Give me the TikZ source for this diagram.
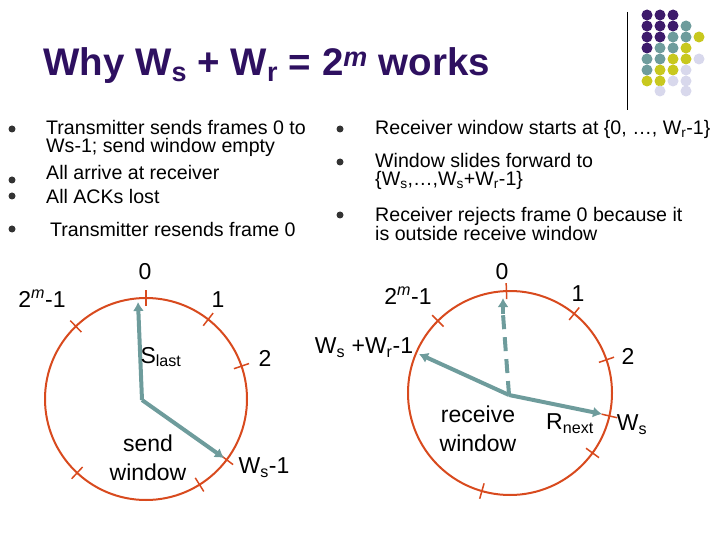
\documentclass[tikz,border=0pt]{standalone}
\usepackage{fontspec}
\setmainfont{Liberation Sans}
\usetikzlibrary{arrows.meta,calc}
\definecolor{pu}{HTML}{3D1A6B}
\definecolor{te}{HTML}{6E9C9C}
\definecolor{ye}{HTML}{C8C81E}
\definecolor{la}{HTML}{D8D8EC}
\definecolor{ring}{HTML}{D84A1E}
\definecolor{arr}{HTML}{6E9C9C}
\definecolor{ttl}{HTML}{2E1060}
\begin{document}
\begin{tikzpicture}[x=1pt,y=-1pt,
  txt/.style={font=\fontsize{19.6}{18}\selectfont,anchor=west,inner sep=0pt,align=left},
  lbl/.style={font=\fontsize{23}{29}\selectfont,inner sep=0pt,align=center},
  bul/.style={fill=black!80,circle,inner sep=0pt,minimum size=7pt},
  ringst/.style={draw=ring,line width=2pt},
  tick/.style={draw=ring,line width=1.5pt},
  ptr/.style={draw=arr,line width=4pt,-{Latex[length=9pt,width=11pt]}},
  dot/.style={circle,inner sep=0pt,minimum width=11pt,minimum height=9pt}]
\useasboundingbox (0,0) rectangle (720,540);
% logo
\draw[line width=1pt] (627,12) -- (627,110);
\foreach \r/\y/\cols in {0/15/{pu,pu,pu},1/26/{pu,pu,pu,te},2/37/{pu,pu,te,te,ye},3/48/{pu,te,te,ye},4/59/{te,te,ye,ye,la},5/70/{te,ye,ye,la},6/81/{ye,ye,la,la}}{
  \foreach \c [count=\i from 0] in \cols { \node[dot,fill=\c] (d\r\i) at (647+13*\i,\y) {}; } }
\node[dot,fill=la] (d71) at (660,91) {};
\node[dot,fill=la] (d73) at (686,91) {};
% title
\node[anchor=west,inner sep=0pt,text=ttl,font=\fontsize{38.5}{40}\selectfont\bfseries] (title) at (43,66) {Why W\textsubscript{s} + W\textsubscript{r} = 2\textsuperscript{\itshape m} works};
% bullets left
\node[bul] (b1) at (12,129) {}; \node[bul] (b2) at (12,180) {}; \node[bul] (b3) at (12,196) {}; \node[bul] (b4) at (12,229) {};
\node[txt] (t1) at (46,138) {Transmitter sends frames 0 to\\Ws-1; send window empty};
\node[txt] (t2) at (46,172) {All arrive at receiver};
\node[txt] (t3) at (46,196) {All ACKs lost};
\node[txt] (t4) at (50,229) {Transmitter resends frame 0};
\node[bul] (b5) at (340,129) {}; \node[bul] (b6) at (340,162) {}; \node[bul] (b7) at (340,215) {};
\node[txt] (t5) at (375,129) {Receiver window starts at \{0, …, W\textsubscript{r}-1\}};
\node[txt] (t6) at (375,171) {Window slides forward to\\\{W\textsubscript{s},…,W\textsubscript{s}+W\textsubscript{r}-1\}};
\node[txt] (t7) at (375,224) {Receiver rejects frame 0 because it\\is outside receive window};
% left circle
\coordinate (C1) at (146,399);
\draw[ringst] (C1) circle[radius=101];
\foreach \a in {90,52,19,-37,-58,-133,134}{
  \draw[tick] ($(C1)+({93*cos(\a)},{-93*sin(\a)})$) -- ($(C1)+({109*cos(\a)},{-109*sin(\a)})$);}
\coordinate (Lc) at (142,400);
\coordinate (L0) at (138,302);
\coordinate (Lw) at (224,458);
\draw[ptr] (Lc) -- (L0);
\draw[ptr] (Lc) -- (Lw);
\node[lbl] (l0) at (145,272) {0};
\node[lbl] (l2m) at (42,299) {2\textsuperscript{\itshape m}-1};
\node[lbl] (l1) at (218,300) {1};
\node[lbl] (ls) at (161,357) {S\textsubscript{last}};
\node[lbl] (l2) at (265,358) {2};
\node[lbl] (lsw) at (148,458) {send\\window};
\node[lbl] (lws) at (264,468) {W\textsubscript{s}-1};
% right circle
\coordinate (C2) at (510,393);
\draw[ringst] (C2) circle[radius=102];
\foreach \a in {92,51,19,-13,-36,-106,135}{
  \draw[tick] ($(C2)+({94*cos(\a)},{-94*sin(\a)})$) -- ($(C2)+({110*cos(\a)},{-110*sin(\a)})$);}
\coordinate (Rc) at (509,395);
\coordinate (Rm) at (503,314);
\coordinate (R0) at (503,298);
\coordinate (Rw) at (419,354);
\coordinate (Rn) at (602,414);
\draw[draw=arr,line width=4pt,dash pattern=on 14pt off 8pt] (Rc) -- (Rm);
\draw[ptr] (Rm) -- (R0);
\draw[ptr] (Rc) -- (Rw);
\draw[ptr] (Rc) -- (Rn);
\node[lbl] (r2m) at (408,296) {2\textsuperscript{\itshape m}-1};
\node[lbl] (r0) at (502,272) {0};
\node[lbl] (r1) at (578,294) {1};
\node[lbl] (rw) at (364,348) {W\textsubscript{s} +W\textsubscript{r}-1};
\node[lbl] (r2) at (628,356) {2};
\node[lbl] (rrw) at (478,429) {receive\\window};
\node[lbl] (rn) at (570,424) {R\textsubscript{next}};
\node[lbl] (rws) at (632,425) {W\textsubscript{s}};
\end{tikzpicture}
\end{document}
